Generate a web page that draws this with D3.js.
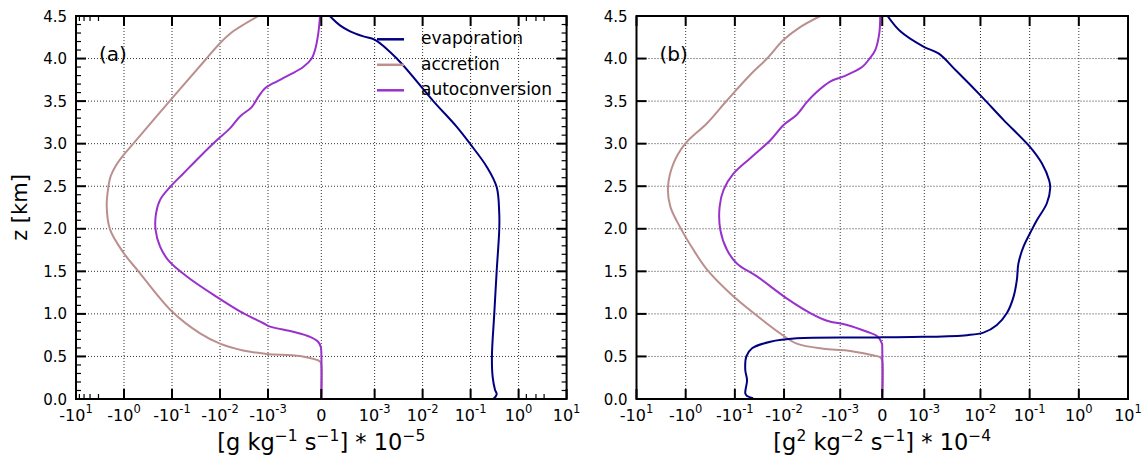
<!DOCTYPE html>
<html><head><meta charset="utf-8">
<script src="https://cdn.jsdelivr.net/npm/d3@7"></script>
<style>
body{margin:0;background:#fff}
svg{display:block}
text{font-family:"DejaVu Sans",sans-serif;fill:#000;white-space:pre}
</style>
</head><body>
<svg id="c" width="1146" height="461"></svg>
<script>
// ---------------- data ----------------
const seriesNames = ["evaporation", "accretion", "autoconversion"];
const zTicks = [0, 0.5, 1, 1.5, 2, 2.5, 3, 3.5, 4, 4.5];
const zTickLabels = ["0.0","0.5","1.0","1.5","2.0","2.5","3.0","3.5","4.0","4.5"];
const xTickValues = [-10, -1, -0.1, -0.01, -0.001, 0, 0.001, 0.01, 0.1, 1, 10];
const xTickBase = ["-10","-10","-10","-10","-10","0","10","10","10","10","10"];
const xTickExp  = ["1","0","-1","-2","-3","","-3","-2","-1","0","1"];
const minorXA = [-8.5, -6.8, -5.1, -3.4, 1.45, 2.3, 3.4];

// [z (km), value]
const evapA = [[4.50,1.6e-4],[4.39,3.5e-4],[4.32,5.4e-4],[4.26,7.9e-4],[4.22,1.02e-3],[4.00,2.9e-3],[3.50,0.0167],[3.20,0.051],[3.00,0.097],[2.73,0.216],[2.49,0.349],[2.18,0.395],[1.99,0.395],[1.50,0.349],[1.00,0.311],[0.50,0.278],[0.26,0.288],[0.11,0.322],[0.055,0.349],[0.0,0.297]];
const accrA = [[4.50,-1.59e-3],[4.32,-5.3e-3],[4.18,-0.0100],[3.98,-0.0205],[3.53,-0.101],[3.00,-0.64],[2.88,-0.98],[2.75,-1.45],[2.62,-1.89],[2.49,-2.12],[2.26,-2.29],[1.99,-1.95],[1.71,-1.0],[1.50,-0.50],[1.03,-0.101],[0.77,-0.026],[0.65,-0.0100],[0.57,-3.3e-3],[0.53,-1.06e-3],[0.505,-4.0e-4],[0.44,-2.4e-5],[0.40,0],[0.0,0]];
const autoA = [[4.50,-2.4e-5],[4.30,-5.6e-5],[4.10,-1.18e-4],[4.00,-1.8e-4],[3.90,-3.4e-4],[3.81,-5.9e-4],[3.71,-9.0e-4],[3.65,-1.15e-3],[3.55,-1.59e-3],[3.43,-2.18e-3],[3.32,-3.83e-3],[3.18,-6.2e-3],[3.04,-0.0117],[2.85,-0.026],[2.65,-0.058],[2.49,-0.110],[2.34,-0.177],[2.18,-0.215],[1.99,-0.22],[1.79,-0.177],[1.63,-0.119],[1.44,-0.049],[1.20,-0.0117],[1.03,-3.83e-3],[0.89,-1.25e-3],[0.85,-9.6e-4],[0.79,-5.3e-4],[0.73,-2.1e-4],[0.67,-5.6e-5],[0.61,-1e-5],[0.55,0],[0.0,0]];

const evapB = [[4.50,1.26e-4],[4.32,4.3e-4],[4.14,9.8e-4],[4.06,1.40e-3],[3.85,3.3e-3],[3.55,0.0107],[3.28,0.0294],[2.96,0.1025],[2.77,0.177],[2.57,0.249],[2.48,0.262],[2.30,0.224],[2.10,0.140],[1.99,0.111],[1.79,0.075],[1.59,0.059],[1.40,0.055],[1.20,0.047],[1.01,0.0345],[0.87,0.0216],[0.78,0.0115],[0.75,5.3e-3],[0.73,9.8e-4],[0.725,0],[0.722,-2.85e-4],[0.713,-5.5e-3],[0.673,-0.019],[0.596,-0.0447],[0.50,-0.0584],[0.34,-0.0614],[0.22,-0.0565],[0.067,-0.0614],[0.035,-0.0565],[0.01,-0.0426]];
const accrB = [[4.50,-1.83e-3],[4.37,-4.7e-3],[4.22,-0.0102],[4.00,-0.0222],[3.81,-0.0485],[3.51,-0.144],[3.24,-0.368],[3.00,-1.02],[2.77,-1.76],[2.49,-2.29],[2.26,-2.05],[1.99,-1.22],[1.75,-0.69],[1.52,-0.368],[1.24,-0.124],[1.01,-0.0416],[0.77,-0.0119],[0.65,-5.5e-3],[0.59,-1.57e-3],[0.57,-8.4e-4],[0.52,-2.85e-4],[0.49,-4.8e-5],[0.45,0],[0.0,0]];
const autoB = [[4.50,-4.8e-5],[4.30,-7.0e-5],[4.10,-1.67e-4],[4.00,-3.0e-4],[3.90,-4.8e-4],[3.79,-9.2e-4],[3.73,-1.24e-3],[3.61,-2.14e-3],[3.49,-3.41e-3],[3.34,-5.5e-3],[3.22,-0.0102],[3.04,-0.019],[2.83,-0.0485],[2.65,-0.106],[2.46,-0.169],[2.26,-0.204],[1.99,-0.198],[1.75,-0.144],[1.59,-0.090],[1.44,-0.0355],[1.18,-8.7e-3],[1.01,-2.92e-3],[0.92,-1.34e-3],[0.87,-8.4e-4],[0.79,-3.6e-4],[0.74,-1.26e-4],[0.65,-7e-6],[0.60,0],[0.0,0]];

const xLabelA = [["[g kg",0],["\u22121",1],[" s",0],["\u22121",1],["] * 10",0],["\u22125",1]];
const xLabelB = [["[g",0],["2",1],[" kg",0],["\u22122",1],[" s",0],["\u22121",1],["] * 10",0],["\u22124",1]];

// ---------------- drawing ----------------
const W = 1146, H = 461, yTop = 16, yBot = 399;
const colors = ["#000080", "#bc8f8f", "#9932cc"];
const LS = 1 / (1 - 1 / 10);
function symT(t) {
  return v => { const a = Math.abs(v); return a <= t ? v / t * LS : Math.sign(v) * (LS + Math.log10(a / t)); };
}
const panels = [
  {x0: 76, x1: 566.6, t: 1e-3, data: [evapA, accrA, autoA], tag: "(a)", minorY: true, minorX: minorXA, xlabel: xLabelA, legend: true},
  {x0: 636.5, x1: 1128, t: 1.3e-3, data: [evapB, accrB, autoB], tag: "(b)", minorY: false, minorX: [], xlabel: xLabelB, legend: false}
];

const svg = d3.select("#c");
svg.append("rect").attr("width", W).attr("height", H).attr("fill", "#fff");
const y = d3.scaleLinear().domain([0, 4.5]).range([yBot, yTop]);

panels.forEach((P, pi) => {
  const T = symT(P.t);
  const lin = d3.scaleLinear().domain([T(-10), T(10)]).range([P.x0, P.x1]);
  const x = v => lin(T(v));
  const g = svg.append("g");
  const cid = "clip" + pi;
  svg.append("clipPath").attr("id", cid).append("rect")
    .attr("x", P.x0).attr("y", yTop).attr("width", P.x1 - P.x0).attr("height", yBot - yTop);

  // grid
  const grid = g.append("g").attr("stroke", "#333").attr("stroke-width", 1).attr("stroke-dasharray", "1,2");
  xTickValues.slice(1, -1).forEach(v => grid.append("line").attr("x1", x(v)).attr("x2", x(v)).attr("y1", yTop).attr("y2", yBot));
  zTicks.slice(1, -1).forEach(v => grid.append("line").attr("x1", P.x0).attr("x2", P.x1).attr("y1", y(v)).attr("y2", y(v)));

  // lines
  const line = d3.line().x(d => x(d[1])).y(d => y(d[0])).curve(d3.curveCatmullRom.alpha(0.5));
  const lg = g.append("g").attr("clip-path", `url(#${cid})`);
  [1, 2, 0].forEach(i => {
    lg.append("path").attr("d", line(P.data[i])).attr("fill", "none")
      .attr("stroke", colors[i]).attr("stroke-width", 2).attr("stroke-linejoin", "round");
  });

  // ticks
  const tk = g.append("g").attr("stroke", "#000");
  xTickValues.forEach(v => {
    tk.append("line").attr("x1", x(v)).attr("x2", x(v)).attr("y1", yBot).attr("y2", yBot - 10).attr("stroke-width", 2);
    tk.append("line").attr("x1", x(v)).attr("x2", x(v)).attr("y1", yTop).attr("y2", yTop + 10).attr("stroke-width", 2);
  });
  P.minorX.forEach(v => {
    tk.append("line").attr("x1", x(v)).attr("x2", x(v)).attr("y1", yBot).attr("y2", yBot - 5).attr("stroke-width", 1.2);
    tk.append("line").attr("x1", x(v)).attr("x2", x(v)).attr("y1", yTop).attr("y2", yTop + 5).attr("stroke-width", 1.2);
  });
  zTicks.forEach(v => {
    tk.append("line").attr("x1", P.x0).attr("x2", P.x0 + 10).attr("y1", y(v)).attr("y2", y(v)).attr("stroke-width", 2);
    tk.append("line").attr("x1", P.x1).attr("x2", P.x1 - 10).attr("y1", y(v)).attr("y2", y(v)).attr("stroke-width", 2);
  });
  if (P.minorY) {
    d3.range(0, 45).filter(k => k % 5 !== 0).map(k => k / 10).forEach(v => {
      tk.append("line").attr("x1", P.x0).attr("x2", P.x0 + 5).attr("y1", y(v)).attr("y2", y(v)).attr("stroke-width", 1.2);
      tk.append("line").attr("x1", P.x1).attr("x2", P.x1 - 5).attr("y1", y(v)).attr("y2", y(v)).attr("stroke-width", 1.2);
    });
  }
  // frame
  g.append("rect").attr("x", P.x0).attr("y", yTop).attr("width", P.x1 - P.x0).attr("height", yBot - yTop)
    .attr("fill", "none").attr("stroke", "#000").attr("stroke-width", 2);

  // y tick labels
  zTicks.forEach((v, i) => {
    g.append("text").attr("x", P.x0 - 9).attr("y", y(v) + 5.5).attr("text-anchor", "end")
      .attr("font-size", 15).text(zTickLabels[i]);
  });
  // x tick labels
  xTickValues.forEach((v, i) => {
    const t = g.append("text").attr("x", x(v)).attr("y", 421).attr("text-anchor", "middle").attr("font-size", 16);
    t.append("tspan").text(xTickBase[i]);
    if (xTickExp[i]) t.append("tspan").attr("font-size", 11.5).attr("dy", -8).text(xTickExp[i]);
  });
  // x label
  const xl = g.append("text").attr("x", (P.x0 + P.x1) / 2).attr("y", 450).attr("text-anchor", "middle").attr("font-size", 22.5);
  let up = false;
  P.xlabel.forEach(([s, sup]) => {
    const ts = xl.append("tspan").text(s);
    if (sup && !up) { ts.attr("font-size", 15.5).attr("dy", -9.5); up = true; }
    else if (!sup && up) { ts.attr("dy", 9.5); up = false; }
  });
  // panel tag
  g.append("text").attr("x", P.x0 + 23).attr("y", 60.5).attr("font-size", 20).text(P.tag);

  // legend
  if (P.legend) {
    const rows = [39.3, 64.8, 90.3];
    seriesNames.forEach((n, i) => {
      g.append("line").attr("x1", 377).attr("x2", 404).attr("y1", rows[i]).attr("y2", rows[i])
        .attr("stroke", colors[i]).attr("stroke-width", 2.5);
      g.append("text").attr("x", 421).attr("y", rows[i] + 5).attr("font-size", 17).text(n);
    });
  }
});

// y label
svg.append("text").attr("transform", "translate(27,207.5) rotate(-90)").attr("text-anchor", "middle")
  .attr("font-size", 21).text("z [km]");
</script>
</body></html>
